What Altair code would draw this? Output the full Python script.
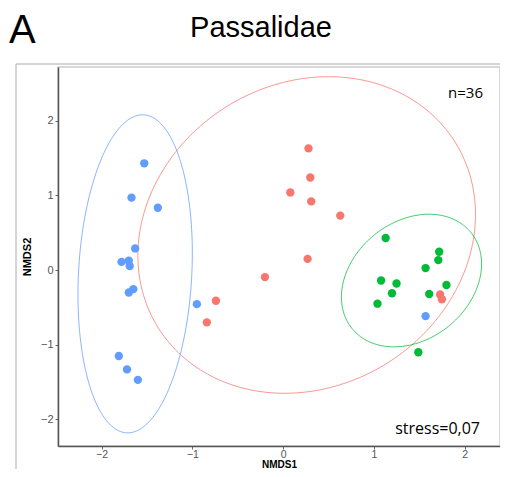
import altair as alt
import pandas as pd
import numpy as np

# ---- data ----
blue_x = [-1.53, -1.67, -1.38, -1.63, -1.78, -1.70, -1.69, -1.65, -1.70, -1.81, -1.72, -1.60, -0.95, 1.57]
blue_y = [1.43, 0.97, 0.835, 0.29, 0.11, 0.125, 0.054, -0.255, -0.30, -1.15, -1.33, -1.47, -0.456, -0.617]
red_x = [-0.74, -0.84, 0.28, 0.30, 0.08, 0.31, 0.63, 0.27, -0.20, 1.73, 1.75]
red_y = [-0.41, -0.70, 1.63, 1.24, 1.04, 0.92, 0.73, 0.15, -0.094, -0.326, -0.39]
green_x = [1.13, 1.72, 1.71, 1.57, 1.08, 1.25, 1.80, 1.20, 1.61, 1.04, 1.49]
green_y = [0.43, 0.245, 0.134, 0.027, -0.14, -0.18, -0.20, -0.31, -0.32, -0.45, -1.10]

groups = ["G1", "G2", "G3"]
group_colors = ["#F8766D", "#00BA38", "#619CFF"]

# ellipse parameters (center, half-extents, correlation) per group: G1 red, G2 green, G3 blue
ell_group = ["G1", "G2", "G3"]
ell_cx = [0.26, 1.415, -1.63]
ell_cy = [0.47, -0.14, -0.05]
ell_sx = [1.86, 0.772, 0.63]
ell_sy = [2.12, 0.888, 2.13]
ell_r = [0.13, 0.25, 0.13]

x_ticks = [-2, -1, 0, 1, 2]
y_ticks = [-2, -1, 0, 1, 2]
x_domain = [-2.48, 2.39]
y_domain = [-2.356, 2.72]

# ---- tables ----
pts = pd.DataFrame({
    "NMDS1": red_x + green_x + blue_x,
    "NMDS2": red_y + green_y + blue_y,
    "grupo": ["G1"] * len(red_x) + ["G2"] * len(green_x) + ["G3"] * len(blue_x),
})

t = np.linspace(0, 2 * np.pi, 241)
rows = []
for g, cx, cy, sx, sy, r in zip(ell_group, ell_cx, ell_cy, ell_sx, ell_sy, ell_r):
    ex = cx + sx * np.cos(t)
    ey = cy + sy * (r * np.cos(t) + np.sqrt(1 - r * r) * np.sin(t))
    for i, (a, b) in enumerate(zip(ex, ey)):
        rows.append({"NMDS1": a, "NMDS2": b, "grupo": g, "i": i})
ell = pd.DataFrame(rows)

xs = alt.Scale(domain=x_domain, nice=False, zero=False)
ys = alt.Scale(domain=y_domain, nice=False, zero=False)
cs = alt.Scale(domain=groups, range=group_colors)

xaxis = alt.Axis(values=x_ticks, format="d", grid=False, title="NMDS1", titleFontWeight="bold",
                 titleFontSize=10, titleY=21, titleBaseline="alphabetic",
                 labelFontSize=10.5, labelColor="#555555",
                 tickSize=3, tickColor="#666666", domainColor="#555555", domainWidth=1.5,
                 labelPadding=0, labelFont="Liberation Sans", titleFont="Liberation Sans")
yaxis = alt.Axis(values=y_ticks, format="d", grid=False, title="NMDS2", titleFontWeight="bold",
                 titleFontSize=11, titlePadding=8, labelFontSize=11, labelColor="#555555",
                 tickSize=3, tickColor="#666666", domainColor="#555555", domainWidth=1.5,
                 labelPadding=2, labelFont="Liberation Sans", titleFont="Liberation Sans")

ellipses = alt.Chart(ell).mark_line(strokeWidth=1, opacity=0.75).encode(
    x=alt.X("NMDS1:Q", scale=xs, axis=xaxis),
    y=alt.Y("NMDS2:Q", scale=ys, axis=yaxis),
    color=alt.Color("grupo:N", scale=cs, legend=None),
    detail="grupo:N",
    order="i:Q",
)

points = alt.Chart(pts).mark_circle(size=70, opacity=1).encode(
    x=alt.X("NMDS1:Q", scale=xs),
    y=alt.Y("NMDS2:Q", scale=ys),
    color=alt.Color("grupo:N", scale=cs, legend=None),
)

annot = pd.DataFrame({"d": [0]})

n_text = alt.Chart(annot).mark_text(text="n=36", font="Open Sans", fontSize=15, align="right",
                                    baseline="alphabetic", color="black").encode(
    x=alt.value(425), y=alt.value(31))
stress_text = alt.Chart(annot).mark_text(text="stress=0,07", font="Open Sans", fontSize=16, align="right",
                                         baseline="alphabetic", color="black").encode(
    x=alt.value(422), y=alt.value(367))
title_text = alt.Chart(annot).mark_text(text="Passalidae", font="Liberation Sans", fontSize=29, align="center",
                                        baseline="alphabetic", color="black").encode(
    x=alt.value(203), y=alt.value(-30))
letter_text = alt.Chart(annot).mark_text(text="A", font="Liberation Sans", fontSize=40, align="left",
                                         baseline="alphabetic", color="black").encode(
    x=alt.value(-49), y=alt.value(-24))

frame_top = alt.Chart(annot).mark_rule(color="#aaaaaa", strokeWidth=1).encode(
    x=alt.value(-42), x2=alt.value(442), y=alt.value(-3))
frame_left = alt.Chart(annot).mark_rule(color="#aaaaaa", strokeWidth=1).encode(
    x=alt.value(-42), y=alt.value(-3), y2=alt.value(412))

chart = alt.layer(
    frame_top, frame_left, ellipses, points, n_text, stress_text, title_text, letter_text
).properties(
    width=442, height=379,
    autosize=alt.AutoSizeParams(type="none"),
    padding={"left": 50, "top": 59, "right": 0, "bottom": 23},
).configure_view(
    stroke="#cccccc", strokeWidth=1.5
)

chart.save("out.html", embed_options={"renderer": "svg", "actions": False})
